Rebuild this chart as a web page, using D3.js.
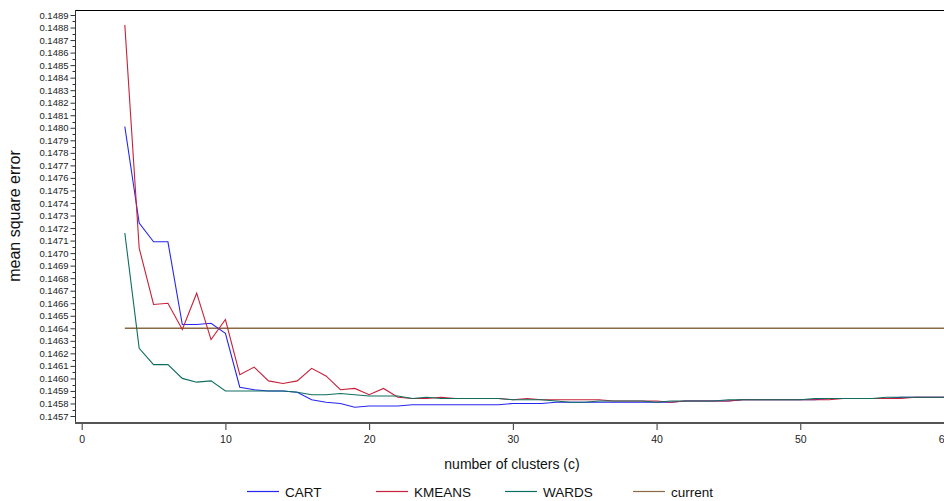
<!DOCTYPE html>
<html>
<head>
<meta charset="utf-8">
<script src="https://cdn.jsdelivr.net/npm/d3@7"></script>
<style>
  body { margin: 0; background: #fff; }
  svg { display: block; font-family: "Liberation Sans", Arial, sans-serif; }
  .narrow { font-family: "Liberation Sans Narrow", "Liberation Sans", Arial, sans-serif; }
</style>
</head>
<body>
<svg id="chart"></svg>
<script>
// number of clusters (c)
const clusters = [3, 4, 5, 6, 7, 8, 9, 10, 11, 12, 13, 14, 15, 16, 17, 18, 19, 20,
    21, 22, 23, 24, 25, 26, 27, 28, 29, 30, 31, 32, 33, 34, 35, 36, 37, 38, 39, 40,
    41, 42, 43, 44, 45, 46, 47, 48, 49, 50, 51, 52, 53, 54, 55, 56, 57, 58, 59, 60];

const cart = [0.14801, 0.14724, 0.14709, 0.14709, 0.14643, 0.14643, 0.14644, 0.14636,
    0.14593, 0.14591, 0.14590, 0.14590, 0.14589, 0.14583, 0.14581, 0.14580, 0.14577, 0.14578,
    0.14578, 0.14578, 0.14579, 0.14579, 0.14579, 0.14579, 0.14579, 0.14579, 0.14579, 0.14580,
    0.14580, 0.14580, 0.14581, 0.14581, 0.14581, 0.14581, 0.14581, 0.14581, 0.14581, 0.14581,
    0.14581, 0.14582, 0.14582, 0.14582, 0.14582, 0.14583, 0.14583, 0.14583, 0.14583, 0.14583,
    0.14583, 0.14584, 0.14584, 0.14584, 0.14584, 0.14584, 0.14585, 0.14585, 0.14585, 0.14585];

const kmeans = [0.14882, 0.14704, 0.14659, 0.14660, 0.14639, 0.14668, 0.14631, 0.14647,
    0.14603, 0.14609, 0.14598, 0.14596, 0.14598, 0.14608, 0.14602, 0.14591, 0.14592, 0.14587,
    0.14592, 0.14585, 0.14584, 0.14584, 0.14585, 0.14584, 0.14584, 0.14584, 0.14584, 0.14583,
    0.14584, 0.14583, 0.14583, 0.14583, 0.14583, 0.14583, 0.14582, 0.14582, 0.14582, 0.14582,
    0.14581, 0.14582, 0.14582, 0.14582, 0.14582, 0.14583, 0.14583, 0.14583, 0.14583, 0.14583,
    0.14583, 0.14583, 0.14584, 0.14584, 0.14584, 0.14584, 0.14584, 0.14585, 0.14585, 0.14585];

const wards = [0.14716, 0.14624, 0.14611, 0.14611, 0.14600, 0.14597, 0.14598, 0.14590,
    0.14590, 0.14590, 0.14590, 0.14590, 0.14589, 0.14587, 0.14587, 0.14588, 0.14587, 0.14586,
    0.14586, 0.14586, 0.14584, 0.14585, 0.14584, 0.14584, 0.14584, 0.14584, 0.14584, 0.14583,
    0.14583, 0.14583, 0.14582, 0.14581, 0.14581, 0.14582, 0.14582, 0.14582, 0.14582, 0.14581,
    0.14582, 0.14582, 0.14582, 0.14582, 0.14583, 0.14583, 0.14583, 0.14583, 0.14583, 0.14583,
    0.14584, 0.14584, 0.14584, 0.14584, 0.14584, 0.14585, 0.14585, 0.14585, 0.14585, 0.14585];

// the "current" reference level
const currentClusters = [3, 60];
const current = [0.14640, 0.14640];

const xTicks = [0, 10, 20, 30, 40, 50, 60];
const yTicks = [0.1457, 0.1458, 0.1459, 0.1460, 0.1461, 0.1462, 0.1463, 0.1464, 0.1465,
    0.1466, 0.1467, 0.1468, 0.1469, 0.1470, 0.1471, 0.1472, 0.1473, 0.1474, 0.1475, 0.1476,
    0.1477, 0.1478, 0.1479, 0.1480, 0.1481, 0.1482, 0.1483, 0.1484, 0.1485, 0.1486, 0.1487,
    0.1488, 0.1489];

const width = 944, height = 501;
const plotLeft = 75, plotTop = 10, plotBottom = 423;

const svg = d3.select("#chart")
    .attr("width", width)
    .attr("height", height);

const x = d3.scaleLinear().domain([0, 60]).range([81.7, 944]);
const y = d3.scaleLinear().domain([0.1457, 0.1489]).range([416, 15]);

// frame
svg.append("line")
    .attr("x1", plotLeft).attr("x2", width).attr("y1", plotTop + 0.5).attr("y2", plotTop + 0.5)
    .attr("stroke", "#000").attr("stroke-width", 1);
svg.append("line")
    .attr("x1", plotLeft + 0.5).attr("x2", plotLeft + 0.5).attr("y1", plotTop).attr("y2", plotBottom)
    .attr("stroke", "#333").attr("stroke-width", 1);

// y axis
const yAxis = svg.append("g")
    .attr("transform", "translate(" + (plotLeft + 0.5) + ",0)")
    .call(d3.axisLeft(y).tickValues(yTicks).tickFormat(d3.format(".4f")).tickSize(5).tickPadding(2));
yAxis.select(".domain").remove();
yAxis.selectAll("text").attr("font-size", 9.5).attr("fill", "#222")
    .attr("font-family", "'Liberation Sans', Arial, sans-serif");
yAxis.selectAll("line").attr("stroke", "#333");

// minor y ticks halfway between labels
svg.append("g")
    .selectAll("line")
    .data(yTicks.slice(0, -1))
    .enter()
    .append("line")
    .attr("x1", plotLeft - 2.5).attr("x2", plotLeft)
    .attr("y1", d => Math.round(y(d + 0.00005)) + 0.5)
    .attr("y2", d => Math.round(y(d + 0.00005)) + 0.5)
    .attr("stroke", "#333");

// x axis
const xAxis = svg.append("g")
    .attr("transform", "translate(0," + plotBottom + ")")
    .call(d3.axisBottom(x).tickValues(xTicks).tickSize(7).tickPadding(6));
xAxis.select(".domain").remove();
xAxis.selectAll("line").attr("stroke", "#333");
xAxis.selectAll("text").attr("font-size", 10.5).attr("fill", "#222")
    .attr("font-family", "'Liberation Sans Narrow', 'Liberation Sans', Arial, sans-serif");
svg.append("line")
    .attr("x1", plotLeft).attr("x2", width).attr("y1", plotBottom).attr("y2", plotBottom)
    .attr("stroke", "#555").attr("stroke-width", 2);

// lines
const line = d3.line()
    .x(d => x(d[0]))
    .y(d => y(d[1]));

const series = [
    { name: "CART", xs: clusters, ys: cart, color: "#2626f0" },
    { name: "KMEANS", xs: clusters, ys: kmeans, color: "#c8203a" },
    { name: "WARDS", xs: clusters, ys: wards, color: "#0f6e5f" },
    { name: "current", xs: currentClusters, ys: current, color: "#8a6a44" }
];

// draw current first so the cluster lines sit on top of it
[series[3], series[0], series[1], series[2]].forEach(s => {
    svg.append("path")
        .datum(s.xs.map((c, i) => [c, s.ys[i]]))
        .attr("fill", "none")
        .attr("stroke", s.color)
        .attr("stroke-width", s.name === "current" ? 1.5 : 1.1)
        .attr("d", line);
});

// axis titles
svg.append("text")
    .attr("class", "narrow")
    .attr("x", 512).attr("y", 469)
    .attr("text-anchor", "middle")
    .attr("font-size", 14)
    .attr("fill", "#111")
    .text("number of clusters (c)");

svg.append("text")
    .attr("transform", "translate(20,216) rotate(-90)")
    .attr("text-anchor", "middle")
    .attr("font-size", 16)
    .attr("fill", "#111")
    .text("mean square error");

// legend
const legendX = [247, 376, 505, 633];
const legend = svg.append("g")
    .selectAll("g")
    .data(series)
    .enter()
    .append("g")
    .attr("transform", (d, i) => "translate(" + legendX[i] + ",491)");
legend.append("line")
    .attr("x1", 0).attr("x2", 32).attr("y1", 0.5).attr("y2", 0.5)
    .attr("stroke", d => d.color).attr("stroke-width", 1.2);
legend.append("text")
    .attr("x", 38).attr("y", 5.5)
    .attr("font-size", 13.5)
    .attr("fill", "#111")
    .text(d => d.name);
</script>
</body>
</html>
